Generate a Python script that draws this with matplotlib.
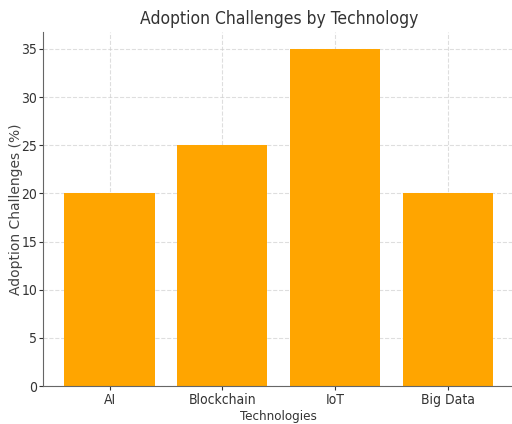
import matplotlib
matplotlib.use("Agg")
from matplotlib import pyplot as plt

technologies = ["AI", "Blockchain", "IoT", "Big Data"]
challenges = [20, 25, 35, 20]

plt.rcParams['font.family'] = ['DejaVu Sans']

fig = plt.figure(figsize=(5.12, 4.24), dpi=100)
ax = fig.add_axes([43 / 512, 1 - 386 / 424, 471.5 / 512, 354 / 424])

ax.bar(technologies, challenges, color='#FFA500', width=0.8)
ax.grid(True, linestyle='--', color='#d0d0d0', alpha=0.7, linewidth=0.8)
ax.set_axisbelow(True)

for side in ['top', 'right']:
    ax.spines[side].set_visible(False)
for side in ['left', 'bottom']:
    ax.spines[side].set_color('#666666')

ax.tick_params(colors='#333333', labelsize=10, length=3, pad=2)
ax.tick_params(axis='y', pad=1)
for lbl in ax.get_xticklabels() + ax.get_yticklabels():
    lbl.set_fontstretch('condensed')

ax.set_title("Adoption Challenges by Technology", fontsize=12.5, color='#333333',
             fontstretch='condensed', pad=6)
ax.set_xlabel("Technologies", fontsize=9.5, color='#333333', fontstretch='condensed',
              labelpad=2)
ax.set_ylabel("Adoption Challenges (%)", fontsize=10, color='#444444', va='center')
ax.yaxis.set_label_coords(-27 / 471.5, 0.5)

fig.savefig("out.png", dpi=100)
